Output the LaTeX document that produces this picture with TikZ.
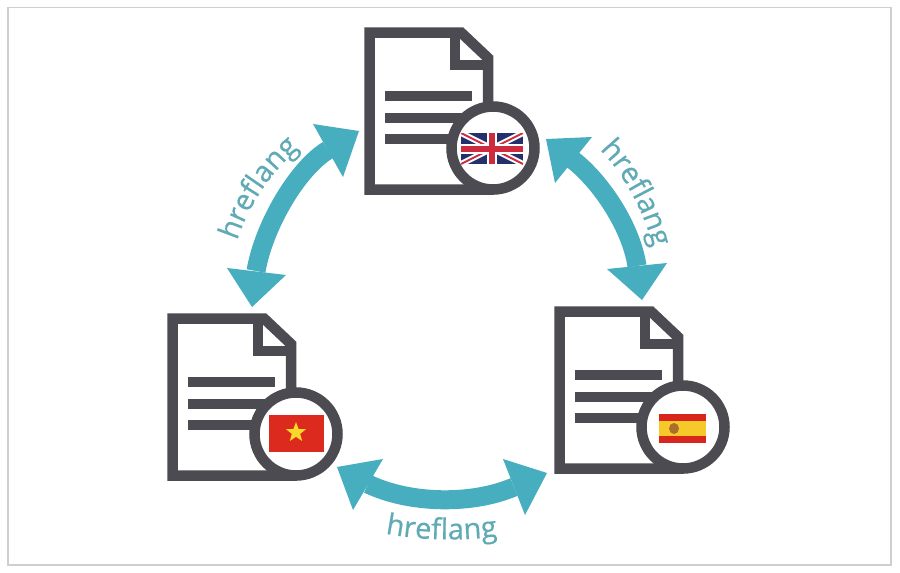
\documentclass[tikz,border=0pt]{standalone}
\usepackage{fontspec}
\setmainfont{Open Sans}
\newfontfamily\hreffont[FakeBold=0.5]{Open Sans}
\usetikzlibrary{decorations.text,shapes.geometric}
\definecolor{docgrey}{HTML}{4B4B51}
\definecolor{teal1}{HTML}{47AEBF}
\definecolor{tealtxt}{HTML}{5FAAB5}
\definecolor{frameg}{HTML}{CFCFCF}
\definecolor{ukblue}{HTML}{23306B}
\definecolor{ukred}{HTML}{CE2B3F}
\definecolor{vnred}{HTML}{DC2A1E}
\definecolor{vnstar}{HTML}{F8D82A}
\definecolor{esred}{HTML}{D8261C}
\definecolor{esyel}{HTML}{F6C92B}
\definecolor{esbrown}{HTML}{A8702A}
\tikzset{
  docline/.style={draw=docgrey,line width=10.5pt,miter limit=10},
  docicon/.pic={
    \coordinate (-badge) at (129,121);
    \draw[docline] (21,69) -- (108,69);
    \draw[docline] (21,91) -- (105,91);
    \draw[docline] (21,112) -- (100,112);
    \draw[docline] (124,90) -- (124,31) -- (97,5.5) -- (5.5,5.5) -- (5.5,162.5) -- (130,162.5);
    \draw[docline] (91,5.5) -- (91,38) -- (124,38);
    \draw[docline,fill=white] (-badge) circle (41.5);
  },
  body/.style={draw=teal1,line width=19pt},
  head/.style={fill=teal1},
  hreflabel/.style={decorate,decoration={text along path,text align=center,
    text={|\hreffont\fontsize{29}{29}\selectfont\color{tealtxt}|hreflang}}}
}
\begin{document}
\begin{tikzpicture}[x=1pt,y=-1pt]
\useasboundingbox (0,0) rectangle (900,573);
\fill[white] (0,0) rectangle (900,573);
\draw[frameg,line width=1.6pt] (8,7.5) rectangle (891,565);

% documents
\pic (en) at (364,27) {docicon};
\pic (vi) at (167,313) {docicon};
\pic (es) at (554,306) {docicon};

% UK flag
\begin{scope}
  \clip (461,133) rectangle (523,164);
  \fill[ukblue] (461,133) rectangle (523,164);
  \draw[white,line width=6pt] (461,133) -- (523,164) (461,164) -- (523,133);
  \draw[ukred,line width=2pt] (461,133) -- (523,164) (461,164) -- (523,133);
  \draw[white,line width=10pt] (492,133) -- (492,164) (461,148.5) -- (523,148.5);
  \draw[ukred,line width=6pt] (492,133) -- (492,164) (461,148.5) -- (523,148.5);
\end{scope}

% Vietnam flag
\fill[vnred] (269,415) rectangle (324,452);
\node[star,star points=5,star point ratio=2.4,fill=vnstar,minimum size=21pt,inner sep=0pt] (vnmark) at (296,432.5) {};

% Spain flag
\fill[esred] (659,414) rectangle (706,443);
\fill[esyel] (659,421) rectangle (706,436);
\fill[esbrown] (674,428.5) ellipse (5 and 5.5);

% arrow left (en <-> vi)
\coordinate (a1s) at (328,150);
\coordinate (a1e) at (256,271);
\fill[head] (359,131) -- (313,124) -- (343,177) -- cycle;
\fill[head] (252,307) -- (227,268) -- (286,275) -- cycle;
\draw[body] (a1s) .. controls (298,168) and (264,225) .. (a1e);

% arrow right (en <-> es)
\coordinate (a2s) at (573,160);
\coordinate (a2e) at (637,266);
\fill[head] (546,139) -- (592,137) -- (555,183) -- cycle;
\fill[head] (642,300) -- (607,269) -- (667,263) -- cycle;
\draw[body] (a2s) .. controls (600,181) and (631,226) .. (a2e);

% arrow bottom (vi <-> es)
\coordinate (a3s) at (368,484);
\coordinate (a3e) at (514,487);
\fill[head] (337,467) -- (383,459) -- (353,510) -- cycle;
\fill[head] (547,473) -- (503,459) -- (525,515) -- cycle;
\draw[body] (a3s) .. controls (410,504) and (472,505) .. (a3e);

% labels
\path[hreflabel] (236,244) .. controls (248,205) and (272,170) .. (302,146);
\path[hreflabel] (600,150) .. controls (620,170) and (642,205) .. (653,247);
\path[hreflabel] (383,533) .. controls (420,541) and (465,541) .. (500,536);
\end{tikzpicture}
\end{document}
